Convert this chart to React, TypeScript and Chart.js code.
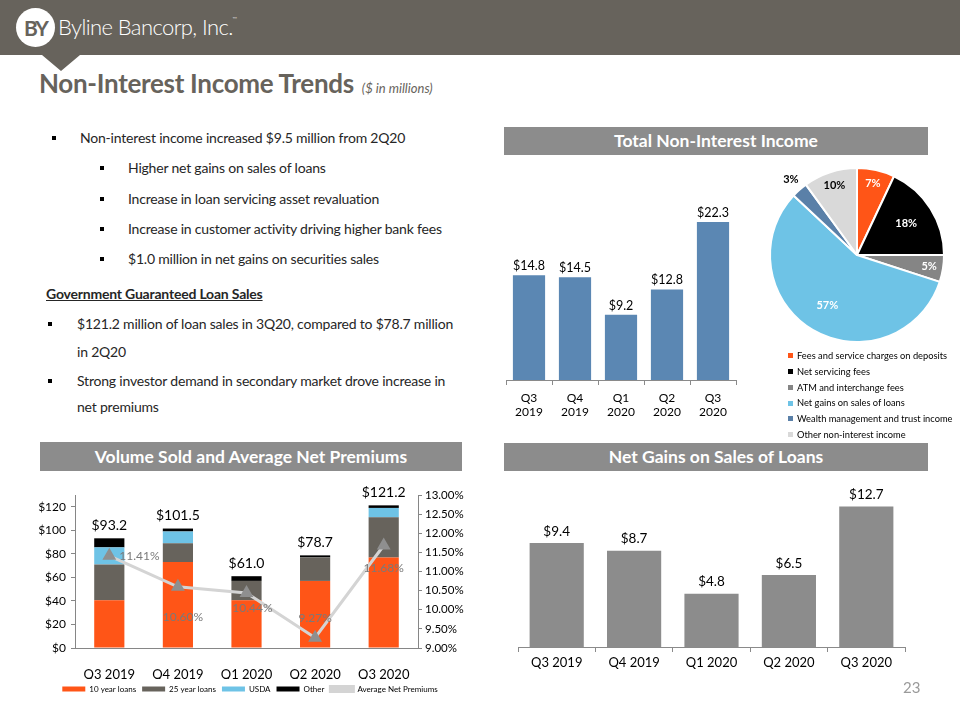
import React, { useEffect, useRef } from "react";
import { Chart, registerables } from "chart.js";

Chart.register(...registerables);

const FONT = "Lato, 'Open Sans', sans-serif";
Chart.defaults.font.family = FONT;
Chart.defaults.color = "#000";

// ---------- data ----------
const quartersTwoLine = [["Q3", "2019"], ["Q4", "2019"], ["Q1", "2020"], ["Q2", "2020"], ["Q3", "2020"]];
const quarters = ["Q3 2019", "Q4 2019", "Q1 2020", "Q2 2020", "Q3 2020"];
const totalNonInterestIncome = [14.8, 14.5, 9.2, 12.8, 22.3];
const netGainsOnSales = [9.4, 8.7, 4.8, 6.5, 12.7];

const tenYearLoans = [40.5, 73, 40.5, 57, 77];
const twentyFiveYearLoans = [30.5, 16, 16.5, 20, 34];
const usdaLoans = [14.5, 10, 0, 0, 8];
const otherLoans = [7.7, 2.5, 4, 1.7, 2.2];
const volumeTotals = [93.2, 101.5, 61.0, 78.7, 121.2];
const avgNetPremiums = [11.41, 10.6, 10.44, 9.27, 11.68];
const volumeTicks = [0, 20, 40, 60, 80, 100, 120];
const premiumTicks = [9, 9.5, 10, 10.5, 11, 11.5, 12, 12.5, 13];

const pieLabels = [
  "Fees and service charges on deposits",
  "Net servicing fees",
  "ATM and interchange fees",
  "Net gains on sales of loans",
  "Wealth management and trust income",
  "Other non-interest income",
];
const pieValues = [7, 18, 5, 57, 3, 10];

// ---------- styles ----------
const ORANGE = "#ff5517";
const DARKGRAY = "#67635c";
const LIGHTBLUE = "#6ec3e6";
const pieColors = [ORANGE, "#000000", "#858585", LIGHTBLUE, "#5a80a8", "#d9d9d9"];
const pieTextColors = ["#fff", "#fff", "#fff", "#fff", "#000", "#000"];
const premiumLabelOffsets = [[10, 0], [5, 30], [6, 15], [0, -20], [0, 23]];
const premiumLabelAlign: CanvasTextAlign[] = ["left", "center", "center", "center", "center"];

function ChartCanvas({ make, left, top, width, height }: any) {
  const ref = useRef<HTMLCanvasElement>(null);
  useEffect(() => {
    const chart = new Chart(ref.current as HTMLCanvasElement, make());
    return () => chart.destroy();
  }, []);
  return (
    <canvas
      ref={ref}
      width={width}
      height={height}
      style={{ position: "absolute", left, top, width, height }}
    />
  );
}

const barValueLabels = (offset: number, size: number) => ({
  id: "barValueLabels",
  afterDatasetsDraw(chart: any) {
    const ctx = chart.ctx;
    const meta = chart.getDatasetMeta(0);
    const data = chart.data.datasets[0].data;
    ctx.save();
    ctx.font = `${size}px ${FONT}`;
    ctx.fillStyle = "#000";
    ctx.textAlign = "center";
    ctx.textBaseline = "bottom";
    meta.data.forEach((el: any, i: number) => {
      ctx.fillText("$" + Number(data[i]).toFixed(1), el.x, el.y - offset);
    });
    ctx.restore();
  },
});

function makeTotalChart() {
  return {
    type: "bar",
    data: {
      labels: quartersTwoLine,
      datasets: [
        {
          data: totalNonInterestIncome,
          backgroundColor: "#5b87b3",
          barPercentage: 0.7,
          categoryPercentage: 1,
        },
      ],
    },
    options: {
      responsive: false,
      animation: false,
      layout: { padding: { top: 13, left: 16, right: 14, bottom: 0 } },
      plugins: { legend: { display: false }, tooltip: { enabled: false } },
      scales: {
        y: { display: false, min: 0, max: 25 },
        x: {
          afterFit: (s: any) => {
            s.height = 50;
          },
          border: { display: true, color: "#8a8a8a" },
          grid: { display: true, drawOnChartArea: false, drawTicks: true, tickLength: 5, color: "#8a8a8a", offset: true },
          ticks: { font: { size: 12 }, color: "#000", padding: 6, maxRotation: 0 },
        },
      },
    },
    plugins: [barValueLabels(3, 12.5)],
  };
}

function makeNetGainsChart() {
  return {
    type: "bar",
    data: {
      labels: quarters,
      datasets: [
        {
          data: netGainsOnSales,
          backgroundColor: "#8c8c8c",
          barPercentage: 0.7,
          categoryPercentage: 1,
        },
      ],
    },
    options: {
      responsive: false,
      animation: false,
      layout: { padding: { top: 12, left: 18, right: 15, bottom: 0 } },
      plugins: { legend: { display: false }, tooltip: { enabled: false } },
      scales: {
        y: { display: false, min: 0, max: 14 },
        x: {
          afterFit: (s: any) => {
            s.height = 33;
          },
          border: { display: true, color: "#8a8a8a" },
          grid: { display: true, drawOnChartArea: false, drawTicks: true, tickLength: 5, color: "#8a8a8a", offset: true },
          ticks: { font: { size: 13 }, color: "#000", padding: 3, maxRotation: 0 },
        },
      },
    },
    plugins: [barValueLabels(5, 13.5)],
  };
}

function makeVolumeChart() {
  const labelsPlugin = {
    id: "volumeLabels",
    afterDatasetsDraw(chart: any) {
      const ctx = chart.ctx;
      const y = chart.scales.y;
      const meta0 = chart.getDatasetMeta(0);
      ctx.save();
      ctx.font = `14px ${FONT}`;
      ctx.fillStyle = "#000";
      ctx.textAlign = "center";
      ctx.textBaseline = "bottom";
      meta0.data.forEach((el: any, i: number) => {
        ctx.fillText("$" + volumeTotals[i].toFixed(1), el.x, y.getPixelForValue(volumeTotals[i]) - 6);
      });
      const lineMeta = chart.getDatasetMeta(4);
      ctx.font = `12px ${FONT}`;
      ctx.fillStyle = "#7a7a7a";
      ctx.textBaseline = "middle";
      lineMeta.data.forEach((el: any, i: number) => {
        ctx.textAlign = premiumLabelAlign[i];
        ctx.fillText(
          avgNetPremiums[i].toFixed(2) + "%",
          el.x + premiumLabelOffsets[i][0],
          el.y + premiumLabelOffsets[i][1]
        );
      });
      ctx.restore();
    },
  };
  const barCommon = { barPercentage: 0.44, categoryPercentage: 1, stack: "loans", yAxisID: "y", order: 1 };
  return {
    type: "bar",
    data: {
      labels: quarters,
      datasets: [
        { label: "10 year loans", data: tenYearLoans, backgroundColor: ORANGE, ...barCommon },
        { label: "25 year loans", data: twentyFiveYearLoans, backgroundColor: DARKGRAY, ...barCommon },
        { label: "USDA", data: usdaLoans, backgroundColor: LIGHTBLUE, ...barCommon },
        { label: "Other", data: otherLoans, backgroundColor: "#000000", ...barCommon },
        {
          type: "line",
          label: "Average Net Premiums",
          data: avgNetPremiums,
          yAxisID: "y1",
          order: 0,
          borderColor: "#d4d4d4",
          backgroundColor: "#d4d4d4",
          borderWidth: 3,
          pointStyle: "triangle",
          pointRadius: 5,
          pointBackgroundColor: "#8f8f8f",
          pointBorderColor: "#8f8f8f",
          tension: 0,
        },
      ],
    },
    options: {
      responsive: false,
      animation: false,
      layout: { padding: { top: 15, left: 0, right: 0, bottom: 0 } },
      plugins: {
        tooltip: { enabled: false },
        legend: {
          position: "bottom",
          labels: {
            boxWidth: 23,
            boxHeight: 5,
            padding: 6,
            color: "#000",
            font: { size: 8 },
            sort: (a: any, b: any) => a.datasetIndex - b.datasetIndex,
          },
        },
      },
      scales: {
        x: {
          stacked: true,
          afterFit: (s: any) => {
            s.height = 31;
          },
          border: { display: true, color: "#868686" },
          grid: { display: false },
          ticks: { font: { size: 13 }, color: "#000", padding: 11, maxRotation: 0 },
        },
        y: {
          stacked: true,
          position: "left",
          min: 0,
          max: 130,
          afterFit: (s: any) => {
            s.width = 55;
          },
          afterBuildTicks: (s: any) => {
            s.ticks = volumeTicks.map((v) => ({ value: v }));
          },
          border: { display: true, color: "#868686" },
          grid: { display: true, drawOnChartArea: false, drawTicks: true, tickLength: 4, color: "#868686" },
          ticks: { font: { size: 12 }, color: "#000", padding: 5, callback: (v: any) => "$" + v },
        },
        y1: {
          position: "right",
          min: 9,
          max: 13,
          afterFit: (s: any) => {
            s.width = 62;
          },
          afterBuildTicks: (s: any) => {
            s.ticks = premiumTicks.map((v) => ({ value: v }));
          },
          border: { display: true, color: "#868686" },
          grid: { display: true, drawOnChartArea: false, drawTicks: true, tickLength: 4, color: "#868686" },
          ticks: { font: { size: 11.5 }, color: "#000", padding: 3, callback: (v: any) => Number(v).toFixed(2) + "%" },
        },
      },
    },
    plugins: [labelsPlugin],
  };
}

function makePieChart() {
  const pieLabelsPlugin = {
    id: "pieLabels",
    afterDatasetsDraw(chart: any) {
      const ctx = chart.ctx;
      const meta = chart.getDatasetMeta(0);
      ctx.save();
      ctx.font = `bold 11px ${FONT}`;
      ctx.textAlign = "center";
      ctx.textBaseline = "middle";
      meta.data.forEach((arc: any, i: number) => {
        const mid = (arc.startAngle + arc.endAngle) / 2;
        const v = pieValues[i];
        const f = v < 5 ? 1.15 : v <= 10 ? 0.84 : 0.67;
        const r = arc.outerRadius * f;
        ctx.fillStyle = pieTextColors[i];
        ctx.fillText(v + "%", arc.x + Math.cos(mid) * r, arc.y + Math.sin(mid) * r);
      });
      ctx.restore();
    },
  };
  return {
    type: "pie",
    data: {
      labels: pieLabels,
      datasets: [{ data: pieValues, backgroundColor: pieColors, borderColor: "#ffffff", borderWidth: 2 }],
    },
    options: {
      responsive: false,
      animation: false,
      layout: { padding: 12 },
      plugins: { legend: { display: false }, tooltip: { enabled: false } },
    },
    plugins: [pieLabelsPlugin],
  };
}

const abs = (s: React.CSSProperties): React.CSSProperties => ({ position: "absolute", ...s });

function Line({ x, y, children, size = 14, bold = false, underline = false, color = "#262626", ls = -0.2 }: any) {
  const L = 20;
  return (
    <div
      style={abs({
        left: x,
        top: y - L / 2,
        lineHeight: L + "px",
        fontSize: size,
        fontWeight: bold ? 700 : 400,
        textDecoration: underline ? "underline" : "none",
        color,
        whiteSpace: "nowrap",
        letterSpacing: ls,
      })}
    >
      {children}
    </div>
  );
}

function Bullet({ x, y }: any) {
  return <div style={abs({ left: x, top: y - 2, width: 4, height: 4, background: "#000" })} />;
}

function SectionHeader({ x, y, w, h, text }: any) {
  return (
    <div
      style={abs({
        left: x,
        top: y,
        width: w,
        height: h,
        background: "#8c8c8c",
        color: "#fff",
        fontWeight: 700,
        fontSize: 17.5,
        lineHeight: h + "px",
        textAlign: "center",
        letterSpacing: 0,
        whiteSpace: "nowrap",
      })}
    >
      {text}
    </div>
  );
}

export default function App() {
  return (
    <div
      style={{
        position: "fixed",
        left: 0,
        top: 0,
        width: 960,
        height: 720,
        background: "#fff",
        fontFamily: FONT,
        overflow: "hidden",
      }}
    >
      {/* header */}
      <div style={abs({ left: 0, top: 0, width: 960, height: 55, background: DARKGRAY })} />
      <div
        style={abs({
          left: 42,
          top: 55,
          width: 0,
          height: 0,
          borderLeft: "19px solid transparent",
          borderRight: "19px solid transparent",
          borderTop: "16px solid " + DARKGRAY,
        })}
      />
      <div
        style={abs({
          left: 16,
          top: 8,
          width: 39,
          height: 39,
          borderRadius: "50%",
          background: "#fff",
          color: DARKGRAY,
          fontWeight: 700,
          fontSize: 21,
          lineHeight: "39px",
          textAlign: "center",
          letterSpacing: -2,
        })}
      >
        BY
      </div>
      <div style={abs({ left: 58, top: 12, fontSize: 22, fontWeight: 300, lineHeight: "30px", color: "#fff", letterSpacing: -0.6, whiteSpace: "nowrap" })}>
        Byline Bancorp, Inc.<span style={{ fontSize: 6, verticalAlign: "top", lineHeight: "14px" }}>™</span>
      </div>

      {/* title */}
      <div style={abs({ left: 39, top: 68, lineHeight: "30px", whiteSpace: "nowrap", color: DARKGRAY })}>
        <span style={{ fontSize: 26, fontWeight: 700, letterSpacing: -0.3 }}>Non-Interest Income Trends</span>
        <span style={{ fontSize: 13, fontStyle: "italic", marginLeft: 8 }}>($ in millions)</span>
      </div>

      {/* bullets */}
      <Bullet x={52} y={138} />
      <Line x={80} y={138}>Non-interest income increased $9.5 million from 2Q20</Line>
      <Bullet x={100} y={168} />
      <Line x={128} y={168}>Higher net gains on sales of loans</Line>
      <Bullet x={100} y={199} />
      <Line x={128} y={199}>Increase in loan servicing asset revaluation</Line>
      <Bullet x={100} y={229} />
      <Line x={128} y={229}>Increase in customer activity driving higher bank fees</Line>
      <Bullet x={100} y={259} />
      <Line x={128} y={259}>$1.0 million in net gains on securities sales</Line>
      <Line x={46} y={294} bold underline>Government Guaranteed Loan Sales</Line>
      <Bullet x={48} y={324} />
      <Line x={77} y={324}>$121.2 million of loan sales in 3Q20, compared to $78.7 million</Line>
      <Line x={77} y={352}>in 2Q20</Line>
      <Bullet x={48} y={381} />
      <Line x={77} y={381}>Strong investor demand in secondary market drove increase in</Line>
      <Line x={77} y={407}>net premiums</Line>

      {/* section headers */}
      <SectionHeader x={504} y={127} w={424} h={28} text="Total Non-Interest Income" />
      <SectionHeader x={40} y={442} w={422} h={29} text="Volume Sold and Average Net Premiums" />
      <SectionHeader x={504} y={443} w={424} h={28} text="Net Gains on Sales of Loans" />

      {/* charts */}
      <ChartCanvas make={makeTotalChart} left={490} top={190} width={260} height={240} />
      <ChartCanvas make={makePieChart} left={757} top={155} width={200} height={200} />
      <ChartCanvas make={makeVolumeChart} left={20} top={480} width={460} height={223} />
      <ChartCanvas make={makeNetGainsChart} left={500} top={480} width={420} height={200} />

      {/* pie legend */}
      {pieLabels.map((l, i) => (
        <div key={l} style={abs({ left: 788, top: 356 + i * 15.8 - 8, height: 16, lineHeight: "16px", fontSize: 9.3, whiteSpace: "nowrap", color: "#000" })}>
          <span style={{ display: "inline-block", width: 5, height: 5, background: pieColors[i], marginRight: 4, verticalAlign: "middle", position: "relative", top: -1 }} />
          {l}
        </div>
      ))}

      {/* page number */}
      <div style={abs({ left: 903, top: 677, fontSize: 15, lineHeight: "20px", color: "#9a9a9a" })}>23</div>
    </div>
  );
}
